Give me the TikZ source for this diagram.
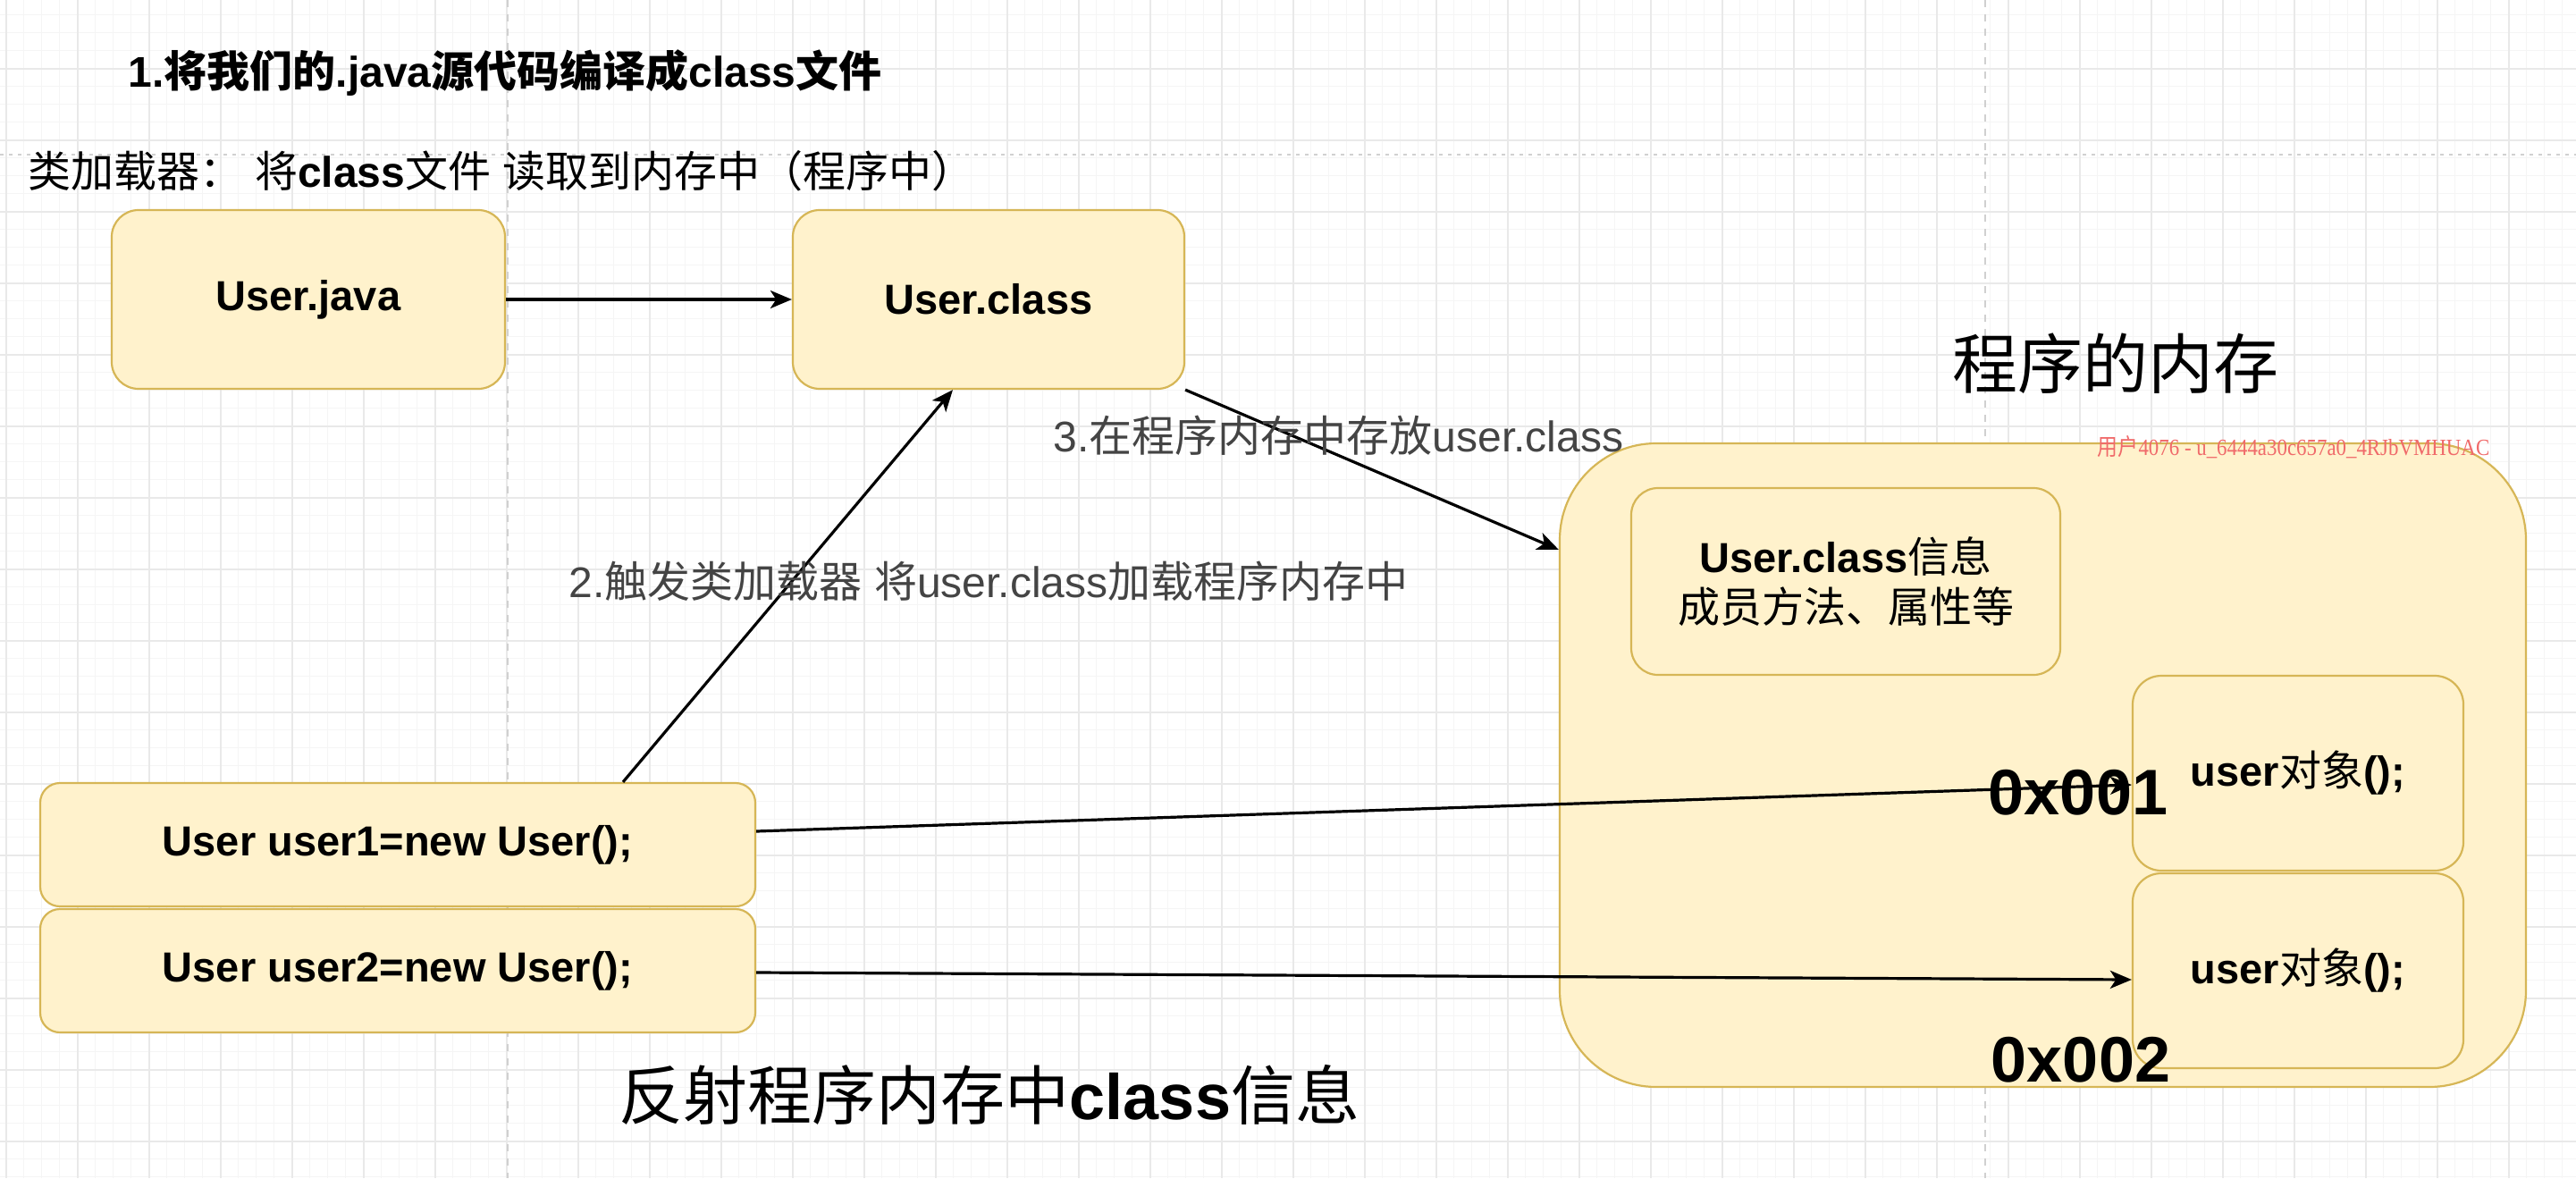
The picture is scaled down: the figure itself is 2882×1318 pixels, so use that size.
\documentclass[tikz,border=0pt]{standalone}
\usepackage{fontspec}
\setmainfont{Liberation Sans}
\newfontfamily\cjk{Noto Sans CJK SC}
\newfontfamily\wmserif{Liberation Serif}
\usetikzlibrary{arrows.meta,calc}
\definecolor{boxfill}{HTML}{FFF2CC}
\definecolor{boxline}{HTML}{D6B656}
\definecolor{gridminor}{HTML}{F5F5F5}
\definecolor{gridmajor}{HTML}{E9E9E9}
\definecolor{pageline}{HTML}{D0D0D0}
\definecolor{labelgray}{HTML}{444444}
\definecolor{wmred}{HTML}{F06A6A}
\newcommand\zh[1]{{\cjk #1}}
\newcommand\fsz[2]{\fontsize{#1}{#2}\selectfont}
\begin{document}
\begin{tikzpicture}[x=0.25pt,y=-0.25pt,
  ybox/.style={draw=boxline,fill=boxfill,line width=0.55pt,inner sep=0pt,align=center,font=\fsz{11.75pt}{14pt}\bfseries},
  arr/.style={line width=0.8pt,-{Stealth[length=6pt,width=5pt,inset=1.6pt]}},
  plain/.style={inner sep=0pt,anchor=west}]
\useasboundingbox (0,0) rectangle (2882,1318);
\fill[white] (0,0) rectangle (2882,1318);
% grid
\foreach \x in {6.67,26.67,...,2882} \draw[gridminor,line width=0.3pt] (\x,0) -- (\x,1318);
\foreach \y in {16.67,36.67,...,1318} \draw[gridminor,line width=0.3pt] (0,\y) -- (2882,\y);
\foreach \x in {6.67,86.67,...,2882} \draw[gridmajor,line width=0.45pt] (\x,0) -- (\x,1318);
\foreach \y in {76.67,156.67,...,1318} \draw[gridmajor,line width=0.45pt] (0,\y) -- (2882,\y);
% page break lines
\draw[pageline,line width=0.35pt,dash pattern=on 2pt off 2pt] (568,0) -- (568,1318);
\draw[pageline,line width=0.35pt,dash pattern=on 2pt off 2pt] (2221,0) -- (2221,1318);
\draw[pageline,line width=0.35pt,dash pattern=on 1pt off 1.5pt] (0,173) -- (2882,173);

% texts at top
\node[plain] (title) at (143,82) {\fsz{12pt}{14pt}\bfseries 1.\zh{将我们的}.java\zh{源代码编译成}class\zh{文件}};
\node[plain] (sub) at (31,191) {\fsz{12pt}{14pt}\zh{类加载器：} \zh{将}\textbf{class}\zh{文件} \zh{读取到内存中（程序中）}};

% boxes
\node[ybox,minimum width=110pt,minimum height=50pt,rounded corners=7.5pt] (java) at (345,335) {User.java};
\node[ybox,minimum width=109.5pt,minimum height=50pt,rounded corners=7.5pt] (cls) at (1106,335) {User.class};
\node[ybox,minimum width=270.25pt,minimum height=180pt,rounded corners=27pt] (mem) at (2285.5,856) {};
\node[ybox,minimum width=120pt,minimum height=52.25pt,rounded corners=7.5pt] (info) at (2065,650.5) {User.class\zh{\mdseries 信息}\\[0pt]{\mdseries\zh{成员方法、属性等}}};
\node[ybox,minimum width=92.5pt,minimum height=54.5pt,rounded corners=8pt] (o1) at (2571,865) {user\zh{\mdseries 对象}();};
\node[ybox,minimum width=92.5pt,minimum height=54.5pt,rounded corners=8pt] (o2) at (2571,1086) {user\zh{\mdseries 对象}();};
\node[ybox,minimum width=200pt,minimum height=34.5pt,rounded corners=5.5pt] (u1) at (445,945) {User user1=new User();};
\node[ybox,minimum width=200pt,minimum height=34.5pt,rounded corners=5.5pt] (u2) at (445,1086) {User user2=new User();};

% headings
\node[inner sep=0pt] (memtitle) at (2367,407) {\fsz{18.25pt}{20pt}\zh{程序的内存}};
\node[inner sep=0pt] (reflect) at (1107,1225) {\fsz{18pt}{20pt}\zh{反射程序内存中}\textbf{class}\zh{信息}};
\node[inner sep=0pt,text=wmred] (wm) at (2566,500) {\scalebox{0.88}[1]{\fsz{6.5pt}{7pt}\wmserif\zh{用户}4076 - u\_6444a30c657a0\_4RJbVMHUAC}};

% connectors
\draw[arr] (java) -- (cls);
\draw[arr] ($(u1.north)+(252,0)$) -- ($(cls.south)+(-40,0)$);
\draw[arr] (cls.south east) -- ($(mem.west)+(0,-241)$);
\draw[arr] ($(u1.east)+(0,-15)$) -- ($(o1.west)+(0,13)$);
\draw[arr] ($(u2.east)+(0,2)$) -- ($(o2.west)+(0,10)$);

% edge labels
\node[plain,text=labelgray] (l3) at (1178,487) {\fsz{12pt}{14pt}3.\zh{在程序内存中存放}user.class};
\node[plain,text=labelgray] (l2) at (636,650) {\fsz{12pt}{14pt}2.\zh{触发类加载器} \zh{将}user.class\zh{加载程序内存中}};
\node[inner sep=0pt] (a1) at (2325,887) {\fsz{18pt}{20pt}\bfseries 0x001};
\node[inner sep=0pt] (a2) at (2328,1186) {\fsz{18pt}{20pt}\bfseries 0x002};
\end{tikzpicture}
\end{document}
